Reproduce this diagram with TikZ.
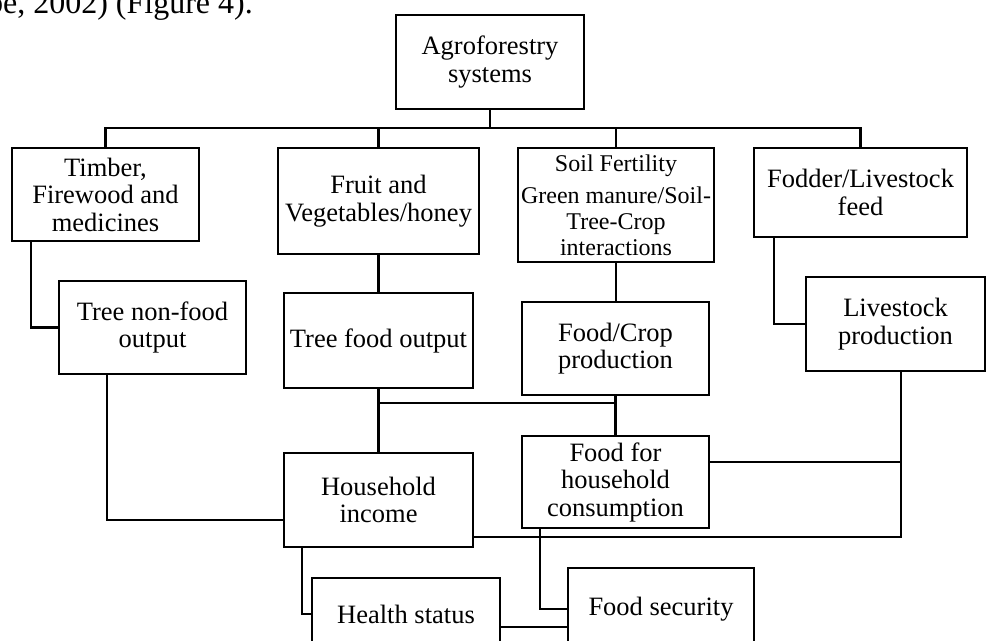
\documentclass[tikz,border=0pt]{standalone}
\usepackage{fontspec}
\setmainfont{Liberation Serif}
\begin{document}
\begin{tikzpicture}[x=1pt,y=-1pt,
  box/.style={draw, line width=2.1pt, inner sep=0pt, align=center, font=\fontsize{26.5}{27.5}\selectfont},
  sz/.style 2 args={minimum width=#1pt, minimum height=#2pt},
  conn/.style={line width=2.1pt}]
\clip (0,0) rectangle (987,640);
\node[anchor=base east, inner sep=0pt, font=\fontsize{32}{36}\selectfont] (cap) at (253,13) {be, 2002) (Figure 4).};
\node[box,sz={188}{94}] (agro) at (490,62) {Agroforestry\\systems};
\node[box,sz={187}{93}] (timber) at (105.5,194.5) {Timber,\\Firewood and\\medicines};
\node[box,sz={201}{106}] (fruit) at (378.5,201) {Fruit and\\Vegetables/honey};
\node[box,sz={196}{114},font=\fontsize{24}{26}\selectfont] (soil) at (616,205) {Soil Fertility\\[6pt]Green manure/Soil-\\Tree-Crop\\interactions};
\node[box,sz={213}{89}] (fodder) at (860.5,192.5) {Fodder/Livestock\\feed};
\node[box,sz={187}{93}] (tnf) at (152.5,327.5) {Tree non-food\\output};
\node[box,sz={189}{95}] (treefood) at (378.5,340.5) {Tree food output};
\node[box,sz={187}{93}] (foodcrop) at (615.5,348.5) {Food/Crop\\production};
\node[box,sz={179}{94}] (livestock) at (895.5,324) {Livestock\\production};
\node[box,sz={189}{94}] (household) at (378.5,500) {Household\\income};
\node[box,sz={187}{92}] (foodhh) at (615.5,482) {Food for\\household\\consumption};
\node[box,sz={188}{72}] (health) at (406,614) {Health status};
\node[box,sz={186}{82}] (foodsec) at (661,609) {Food security};
% connectors
\coordinate (bus) at (490,128);
\draw[conn] (agro.south) -- (bus);
\draw[conn] (timber.north) |- (bus) -| (fodder.north);
\draw[conn] (fruit.north) -- (fruit.north |- bus);
\draw[conn] (soil.north) -- (soil.north |- bus);
\draw[conn] ([xshift=20pt]timber.south west) |- (tnf.west);
\draw[conn] (fruit.south) -- (treefood.north);
\draw[conn] (soil.south) -- (soil.south |- foodcrop.north);
\draw[conn] ([xshift=21pt]fodder.south west) |- (livestock.west);
\draw[conn] ([xshift=49pt]tnf.south west) |- ([yshift=-20pt]household.west);
\draw[conn] (treefood.south) -- (household.north);
\draw[conn] (foodcrop.south) -- (foodhh.north);
\coordinate (j1) at (378.5,403);
\draw[conn] (j1) -- (j1 -| foodcrop.south);
\coordinate (ls) at ([xshift=5.5pt]livestock.south);
\draw[conn] (ls) |- ([yshift=-37pt]household.east);
\coordinate (fe) at ([yshift=20pt]foodhh.east);
\draw[conn] (fe) -- (fe -| ls);
\draw[conn] ([xshift=19pt]household.south west) |- (health.west);
\draw[conn] ([xshift=19pt]foodhh.south west) |- (foodsec.west);
\coordinate (he) at ([yshift=-13pt]health.east);
\draw[conn] (he) -- (he -| foodsec.west);
\end{tikzpicture}
\end{document}
